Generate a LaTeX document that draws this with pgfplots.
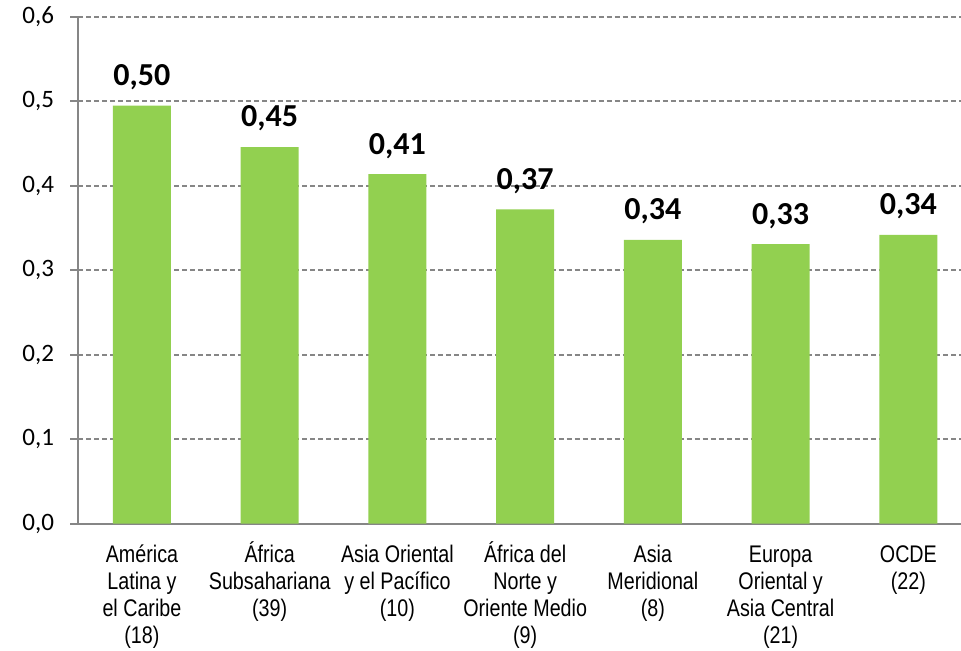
\documentclass[border=0pt]{standalone}
\usepackage{fontspec}
\setmainfont{Carlito}
\newfontfamily\narrowfont[FakeStretch=0.82]{Liberation Sans}
\usepackage{pgfplots}
\pgfplotsset{compat=1.18}
\definecolor{barg}{RGB}{146,208,80}
\definecolor{axg}{RGB}{134,134,134}
% first-line strut so all category labels share a baseline
\newcommand\fl{\rule{0pt}{12pt}}

\begin{document}
\begin{tikzpicture}
\begin{axis}[
  scale only axis, width=441pt, height=253pt,
  xmin=-0.5, xmax=6.412, ymin=0, ymax=0.6,
  axis x line*=bottom, axis y line*=left,
  axis line style={axg, line width=1pt, -},
  tick align=outside,
  ytick={0,0.1,0.2,0.3,0.4,0.5,0.6},
  yticklabel style={font=\fontsize{12.5}{14}\selectfont, xshift=-4.5pt, /pgf/number format/.cd, fixed, fixed zerofill, precision=1, use comma, assume math mode=true},
  ytick style={axg, line width=1pt},
  major tick length=4pt,
  ymajorgrids, grid style={axg, dash pattern=on 2.5pt off 1.5pt, line width=1pt},
  xtick={0,1,2,3,4,5,6},
  xticklabels={{\fl América\\Latina y\\el Caribe\\(18)}, {\fl África\\Subsahariana\\(39)}, {\fl Asia Oriental\\y el Pacífico\\(10)}, {\fl África del\\Norte y\\Oriente Medio\\(9)}, {\fl Asia\\Meridional\\(8)}, {\fl Europa\\Oriental y\\Asia Central\\(21)}, {\fl OCDE\\(22)}},
  xticklabel style={font=\narrowfont\fontsize{12}{13.5}\selectfont, align=center, anchor=north, yshift=0.3pt},
  xtick style={draw=none},
  extra x ticks={0.5,1.5,2.5,3.5,4.5,5.5},
  extra x tick labels={},
  extra x tick style={grid=none, tick style={axg, line width=1pt, draw=axg}, major tick length=3.5pt},
]
\addplot[ybar, bar width=29pt, fill=barg, draw=none, point meta=explicit,
  nodes near coords={\pgfmathprintnumber[fixed, fixed zerofill, precision=2, use comma, assume math mode=true]{\pgfplotspointmeta}},
  every node near coord/.append style={font=\bfseries\fontsize{16}{18}\selectfont, anchor=base, yshift=10pt, text=black}]
  coordinates {(0,0.495)[0.50] (1,0.446)[0.45] (2,0.414)[0.41] (3,0.372)[0.37] (4,0.336)[0.34] (5,0.331)[0.33] (6,0.342)[0.34]};
\end{axis}
\pgfresetboundingbox
\path (current axis.south west) ++(-39pt,-63.5pt) coordinate (a);
\path (current axis.north east) ++(0pt,8.5pt) coordinate (b);
\path (a) rectangle (b);
\end{tikzpicture}
\end{document}
